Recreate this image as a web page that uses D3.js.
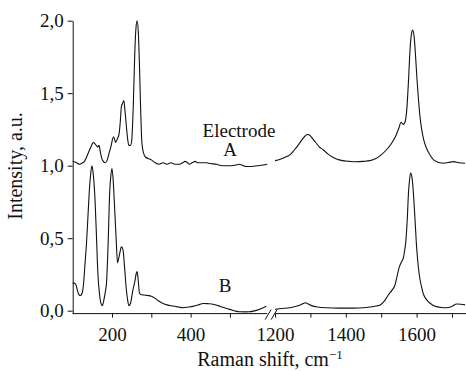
<!DOCTYPE html>
<html>
<head>
<meta charset="utf-8">
<script src="https://cdn.jsdelivr.net/npm/d3@7"></script>
<style>
  body { margin: 0; background: #fff; }
  svg { display: block; }
</style>
</head>
<body>
<div id="app"></div>
<script>
// Spectrum values [Raman shift, intensity]
const aLow = [
  [100, 1.03], [110, 1.02], [118, 1.01], [125, 1.02], [130, 1.03], [137, 1.07], [143, 1.11],
  [148, 1.14], [152, 1.16], [157, 1.15], [160, 1.14], [164, 1.13], [167, 1.14], [170, 1.10],
  [174, 1.05], [178, 1.03], [183, 1.02], [188, 1.04], [193, 1.09], [198, 1.14], [201, 1.18],
  [204, 1.20], [207, 1.18], [209, 1.16], [213, 1.18], [218, 1.22], [221, 1.30], [224, 1.41],
  [227, 1.43], [230, 1.45], [233, 1.38], [237, 1.26], [240, 1.18], [243, 1.14], [247, 1.14],
  [250, 1.17], [254, 1.40], [258, 1.78], [261, 1.95], [264, 2.00], [267, 1.92], [270, 1.68],
  [273, 1.38], [276, 1.16], [280, 1.09], [285, 1.06], [292, 1.05], [300, 1.04], [310, 1.02],
  [320, 1.01], [330, 1.02], [340, 1.01], [350, 1.02], [360, 1.01], [372, 1.01], [380, 1.02],
  [386, 1.03], [392, 1.02], [397, 1.01], [404, 1.02], [412, 1.03], [418, 1.02], [428, 1.02],
  [440, 1.02], [450, 1.015], [466, 1.01], [480, 1.00], [491, 1.00], [505, 1.00], [515, 1.005],
  [525, 1.01], [530, 1.005], [540, 0.995], [555, 0.995], [570, 1.0], [585, 1.005], [595, 1.01]
];
const aHigh = [
  [1200, 1.035], [1215, 1.045], [1230, 1.06], [1242, 1.075], [1255, 1.11], [1265, 1.14],
  [1275, 1.175], [1285, 1.205], [1292, 1.215], [1298, 1.21], [1305, 1.19], [1315, 1.16],
  [1325, 1.13], [1336, 1.11], [1350, 1.08], [1362, 1.06], [1374, 1.046], [1390, 1.035],
  [1410, 1.03], [1430, 1.027], [1450, 1.03], [1468, 1.035], [1485, 1.05], [1500, 1.075],
  [1515, 1.11], [1528, 1.15], [1540, 1.2], [1550, 1.26], [1556, 1.30], [1562, 1.285],
  [1567, 1.30], [1572, 1.38], [1577, 1.58], [1581, 1.78], [1585, 1.90], [1589, 1.935],
  [1593, 1.89], [1597, 1.76], [1601, 1.60], [1605, 1.465], [1610, 1.33], [1615, 1.24],
  [1620, 1.18], [1628, 1.12], [1638, 1.074], [1648, 1.04], [1657, 1.028], [1666, 1.02],
  [1675, 1.017], [1690, 1.022], [1704, 1.028], [1720, 1.02], [1737, 1.017]
];
const bLow = [
  [100, 0.19], [104, 0.19], [108, 0.18], [112, 0.14], [116, 0.11], [120, 0.105], [124, 0.12],
  [128, 0.20], [132, 0.35], [135, 0.46], [139, 0.66], [143, 0.855], [146, 0.95], [149, 1.0],
  [152, 0.95], [156, 0.81], [160, 0.55], [164, 0.26], [168, 0.12], [172, 0.05], [175.5, 0.035],
  [179, 0.07], [183, 0.13], [186, 0.19], [190, 0.45], [194, 0.81], [197, 0.93], [200, 0.98],
  [203, 0.90], [207, 0.69], [211, 0.47], [214, 0.33], [217, 0.36], [220, 0.40], [224, 0.44],
  [228, 0.42], [232, 0.30], [236, 0.16], [240, 0.07], [243, 0.035], [247, 0.05], [253, 0.14],
  [258, 0.20], [262, 0.26], [264, 0.27], [267, 0.20], [270, 0.12], [275, 0.11], [283, 0.108],
  [290, 0.105], [300, 0.10], [310, 0.085], [320, 0.065], [330, 0.05], [340, 0.04], [355, 0.032],
  [370, 0.025], [381, 0.02], [395, 0.025], [406, 0.03], [420, 0.04], [432, 0.05], [445, 0.048],
  [457, 0.045], [470, 0.035], [480, 0.025], [491, 0.015], [505, 0.005], [515, -0.003],
  [525, -0.007], [540, -0.008], [550, -0.007], [560, -0.003], [576, 0.01], [585, 0.02], [593, 0.03]
];
const bHigh = [
  [1200, 0.01], [1220, 0.015], [1242, 0.02], [1260, 0.03], [1271, 0.04], [1280, 0.05],
  [1285, 0.055], [1292, 0.048], [1303, 0.035], [1320, 0.025], [1346, 0.02], [1380, 0.018],
  [1421, 0.018], [1450, 0.02], [1468, 0.025], [1485, 0.032], [1497, 0.04], [1510, 0.07],
  [1520, 0.108], [1530, 0.14], [1539, 0.177], [1545, 0.24], [1551, 0.30], [1558, 0.34],
  [1562, 0.36], [1566, 0.41], [1570, 0.49], [1574, 0.65], [1577, 0.81], [1580, 0.90],
  [1583, 0.95], [1587, 0.92], [1591, 0.81], [1595, 0.65], [1600, 0.44], [1605, 0.30],
  [1610, 0.21], [1614, 0.165], [1620, 0.11], [1627, 0.08], [1633, 0.062], [1645, 0.04],
  [1657, 0.028], [1670, 0.022], [1685, 0.02], [1700, 0.03], [1713, 0.046], [1725, 0.045],
  [1737, 0.04]
];

const yTicks = [0, 0.5, 1.0, 1.5, 2.0];
const lowTicks = [200, 300, 400, 500];
const highTicks = [1200, 1300, 1400, 1500, 1600, 1700];
const labelledTicks = [200, 400, 1200, 1400, 1600];

const width = 466, height = 371;
const serif = "'Liberation Serif', 'Times New Roman', serif";
const ink = '#111';

// two pieces of the broken x axis
const xLow = d3.scaleLinear().domain([100, 600]).range([72.7, 269.2]);
const xHigh = d3.scaleLinear().domain([1200, 1700]).range([275, 452]);
const y = d3.scaleLinear().domain([-0.02, 2.0]).range([313.6, 20.7]);
const axisY = y(-0.02);

const comma = d3.formatLocale({ decimal: ',', thousands: ' ', grouping: [3], currency: ['', ''] });
const fmtY = comma.format('.1f');

const svg = d3.select('#app').append('svg')
    .attr('width', width)
    .attr('height', height)
    .style('font-family', serif);

function styleAxis(g) {
    g.attr('font-family', serif).attr('font-size', 19).attr('color', ink);
    g.selectAll('text').attr('fill', ink);
}

// Y axis
svg.append('g')
    .attr('transform', `translate(${xLow(100)},0)`)
    .call(d3.axisLeft(y).tickValues(yTicks).tickFormat(fmtY).tickSize(5).tickSizeOuter(0).tickPadding(4))
    .call(styleAxis);

// X axis, left part
const lowAxis = svg.append('g')
    .attr('transform', `translate(0,${axisY})`)
    .call(d3.axisBottom(xLow).tickValues(lowTicks)
        .tickFormat(d => labelledTicks.includes(d) ? d : '')
        .tickSize(4).tickSizeOuter(0).tickPadding(10))
    .call(styleAxis);
lowAxis.select('.domain').remove();
lowAxis.append('line')
    .attr('x1', xLow(100)).attr('x2', xLow(595))
    .attr('stroke', ink);

// X axis, right part
const highAxis = svg.append('g')
    .attr('transform', `translate(0,${axisY})`)
    .call(d3.axisBottom(xHigh).tickValues(highTicks)
        .tickFormat(d => labelledTicks.includes(d) ? d : '')
        .tickSize(4).tickSizeOuter(0).tickPadding(10))
    .call(styleAxis);
highAxis.select('.domain').remove();
highAxis.append('line')
    .attr('x1', xHigh(1200)).attr('x2', xHigh(1745))
    .attr('stroke', ink);

// break marks
const xBreak = (xLow(595) + xHigh(1200)) / 2;
[-3, 3].forEach(dx => {
    svg.append('line')
        .attr('x1', xBreak + dx - 3).attr('y1', axisY + 6)
        .attr('x2', xBreak + dx + 3).attr('y2', axisY - 4)
        .attr('stroke', ink)
        .attr('stroke-width', 1);
});

// spectra
const lineLow = d3.line().x(d => xLow(d[0])).y(d => y(d[1])).curve(d3.curveMonotoneX);
const lineHigh = d3.line().x(d => xHigh(d[0])).y(d => y(d[1])).curve(d3.curveMonotoneX);

[[aLow, lineLow], [aHigh, lineHigh], [bLow, lineLow], [bHigh, lineHigh]].forEach(([data, gen]) => {
    svg.append('path')
        .datum(data)
        .attr('d', gen)
        .attr('fill', 'none')
        .attr('stroke', ink)
        .attr('stroke-width', 1.1)
        .attr('stroke-linejoin', 'round');
});

// labels
function label(x, yPos, txt) {
    svg.append('text')
        .attr('x', x).attr('y', yPos)
        .attr('text-anchor', 'middle')
        .attr('fill', ink)
        .style('font-size', '19px')
        .text(txt);
}
label(239, 136.5, 'Electrode');
label(230, 155.7, 'A');
label(225, 292, 'B');

// axis titles
svg.append('text')
    .attr('transform', 'translate(21.5,166) rotate(-90)')
    .attr('text-anchor', 'middle')
    .attr('fill', ink)
    .style('font-size', '20px')
    .text('Intensity, a.u.');

const xTitle = svg.append('text')
    .attr('x', 270).attr('y', 365.7)
    .attr('text-anchor', 'middle')
    .attr('fill', ink)
    .style('font-size', '20px');
xTitle.append('tspan').text('Raman shift, cm');
xTitle.append('tspan').attr('dy', -7).style('font-size', '13px').text('−1');
</script>
</body>
</html>
